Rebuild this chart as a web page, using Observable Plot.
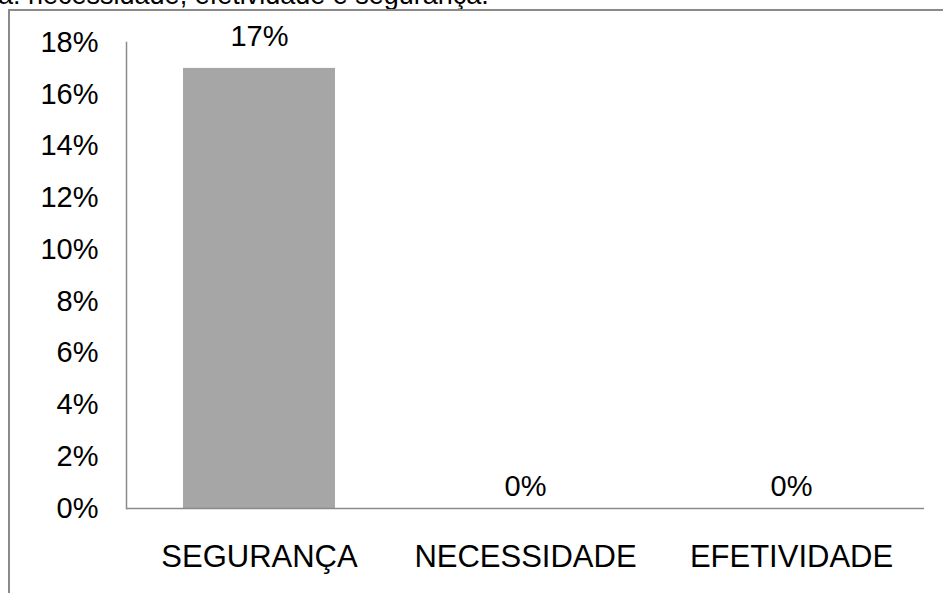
<!DOCTYPE html>
<html>
<head>
<meta charset="utf-8">
<script src="https://cdn.jsdelivr.net/npm/d3@7"></script>
<script src="https://cdn.jsdelivr.net/npm/@observablehq/plot@0.6"></script>
<style>
  html, body { margin: 0; padding: 0; background: #fff; }
  #wrap { position: relative; width: 943px; height: 593px; overflow: hidden; background: #fff;
          font-family: "Liberation Sans", Arial, sans-serif; }
  #caption { position: absolute; left: -2px; top: -18px; font-size: 27px; line-height: 27px;
             white-space: nowrap; color: #000; }
  #box { position: absolute; left: 8px; top: 9px; width: 1000px; height: 700px;
         border-top: 2px solid #8a8a8a; border-left: 2px solid #8a8a8a; box-sizing: border-box; }
  #chart { position: absolute; left: 0; top: 0; }
</style>
</head>
<body>
<div id="wrap">
  <div id="caption">a: necessidade, efetividade e segurança.</div>
  <div id="box"></div>
  <div id="chart"></div>
</div>
<script>
// Share of responses per criterion
const categories = ["SEGURANÇA", "NECESSIDADE", "EFETIVIDADE"];
const shares = [0.17, 0, 0];
const yTickValues = [0, 0.02, 0.04, 0.06, 0.08, 0.10, 0.12, 0.14, 0.16, 0.18];

const rows = categories.map((c, i) => ({category: c, share: shares[i]}));
const pct = d3.format(".0%");

const chart = Plot.plot({
  width: 943,
  height: 593,
  marginLeft: 126,
  marginRight: 19,
  marginTop: 42,
  marginBottom: 85,
  style: {background: "transparent", fontFamily: "\"Liberation Sans\", Arial, sans-serif", color: "#000"},
  x: {domain: categories, paddingInner: 0.43, paddingOuter: 0.215, label: null},
  y: {domain: [0, 0.18], label: null},
  marks: [
    Plot.barY(rows, {x: "category", y: "share", fill: "#a6a6a6"}),
    Plot.axisY({ticks: yTickValues, tickFormat: pct, tickSize: 0, tickPadding: 28, fontSize: 29, label: null}),
    Plot.axisX({tickSize: 0, tickPadding: 36, fontSize: 31, label: null}),
    Plot.frame({anchor: "left", stroke: "#8a8a8a", strokeWidth: 1.5}),
    Plot.ruleY([0], {stroke: "#8a8a8a", strokeWidth: 1.5}),
    // value labels: raised further above a visible bar than above an empty one
    Plot.text(rows, {filter: d => d.share > 0, x: "category", y: "share", text: d => pct(d.share),
                     lineAnchor: "bottom", dy: -22, fontSize: 29, fill: "#000"}),
    Plot.text(rows, {filter: d => d.share === 0, x: "category", y: "share", text: d => pct(d.share),
                     lineAnchor: "bottom", dy: -13, fontSize: 29, fill: "#000"})
  ]
});
document.getElementById("chart").appendChild(chart);
</script>
</body>
</html>
